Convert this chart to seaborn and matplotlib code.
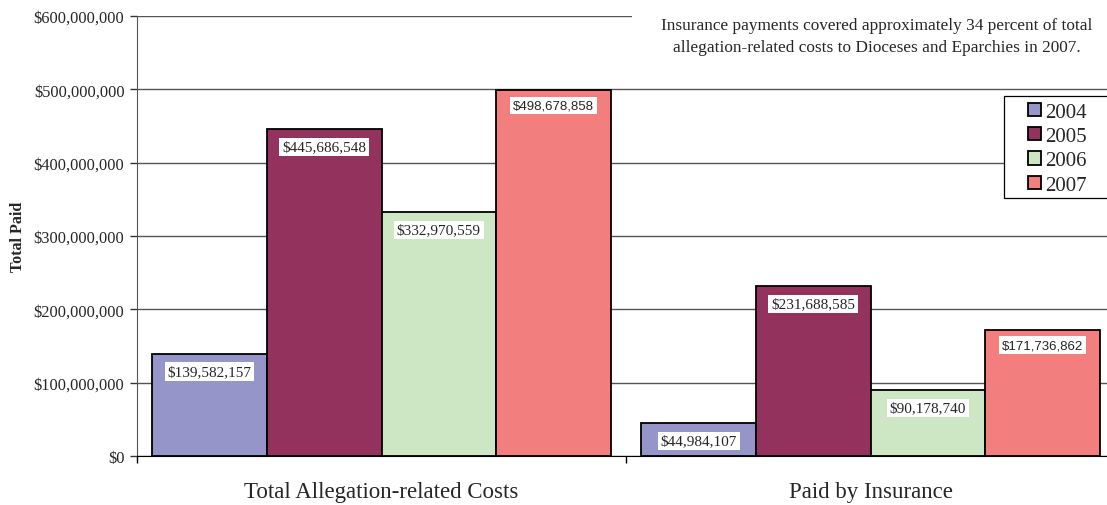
import pandas as pd
import numpy as np
import matplotlib.pyplot as plt
import seaborn as sns
from matplotlib.patches import Rectangle
from matplotlib.ticker import FuncFormatter

# chart values
categories = ['Total Allegation-related Costs', 'Paid by Insurance']
years = ['2004', '2005', '2006', '2007']
total_costs = [139582157, 445686548, 332970559, 498678858]
paid_by_insurance = [44984107, 231688585, 90178740, 171736862]
colors = ['#9595C9', '#94325E', '#CDE6C4', '#F27F7D']
note = ('Insurance payments covered approximately 34 percent of total\n'
        'allegation-related costs to Dioceses and Eparchies in 2007.')

df = pd.DataFrame({
    'category': [categories[0]] * 4 + [categories[1]] * 4,
    'year': years * 2,
    'paid': total_costs + paid_by_insurance,
})

sns.set_style('white')
plt.rcParams['font.family'] = ['Liberation Serif', 'DejaVu Serif']

W, H = 1107, 506
fig = plt.figure(figsize=(W / 100, H / 100), dpi=100)
ax = fig.add_axes([137 / W, 1 - 457 / H, (1115 - 137) / W, 440 / H])

sns.barplot(data=df, x='category', y='paid', hue='year', palette=colors,
            width=0.937, gap=0, edgecolor='black', linewidth=1.3,
            saturation=1, ax=ax, legend=True)

ax.set_xlim(-0.5, 1.5)
ax.set_ylim(0, 600000000)
ax.set_yticks(np.arange(0, 600000001, 100000000))
ax.yaxis.set_major_formatter(FuncFormatter(lambda v, p: '${:,.0f}'.format(v)))
ax.tick_params(axis='y', labelsize=11.8, length=5, width=1, color='#333333',
               left=True, pad=4)
ax.tick_params(axis='x', which='major', length=0, labelsize=16.5, pad=18)
ax.set_xticks([-0.5, 0.5], minor=True)
ax.tick_params(axis='x', which='minor', length=5, width=1, color='black', bottom=True)
ax.set_xlabel('')
ax.set_ylabel('')
fig.text(18 / W, 1 - 237 / H, 'Total Paid', rotation=90, ha='center', va='center',
         fontsize=11.5, fontweight='bold')

ax.grid(axis='y', color='#555555', linewidth=1)
ax.set_axisbelow(True)
for s in ['top', 'right']:
    ax.spines[s].set_visible(False)
ax.spines['left'].set_color('#555555')
ax.spines['bottom'].set_color('black')

# value labels inside bar tops
for i, cont in enumerate(ax.containers):
    for bar in cont:
        h = bar.get_height()
        xc = bar.get_x() + bar.get_width() / 2
        if years[i] == '2007':
            fam, fs, dy = ['Liberation Sans'], 9.5, -15
        else:
            fam, fs, dy = ['Liberation Serif'], 11, -18
        ax.annotate('${:,.0f}'.format(h), (xc, h), xytext=(0, dy),
                    textcoords='offset pixels', ha='center', va='center',
                    fontsize=fs, family=fam, zorder=5,
                    bbox=dict(fc='white', ec='none', pad=2))

# white panel behind the note, covering the top gridline
ax.add_patch(Rectangle((632 / W, 1 - 70 / H), 0.5, 70 / H,
                       transform=fig.transFigure, fc='white', ec='none',
                       zorder=3, clip_on=False))
fig.text(877 / W, 1 - 37 / H, note, ha='center', va='center',
         fontsize=12.4, linespacing=1.55, zorder=4)

# legend frame drawn separately (wide left margin, runs off the right edge)
ax.add_patch(Rectangle((1004 / W, 1 - 199 / H), 0.2, 102 / H,
                       transform=fig.transFigure, fc='white', ec='black',
                       lw=0.9, zorder=6, clip_on=False))
leg = ax.legend(loc='upper left', bbox_to_anchor=(1028 / W, 1 - 104 / H),
                bbox_transform=fig.transFigure, fontsize=15, frameon=False,
                handlelength=0.6, handleheight=0.6, handletextpad=0.2,
                labelspacing=0.25, borderpad=0, borderaxespad=0)
leg.set_zorder(7)

fig.savefig('out.png', dpi=100)
